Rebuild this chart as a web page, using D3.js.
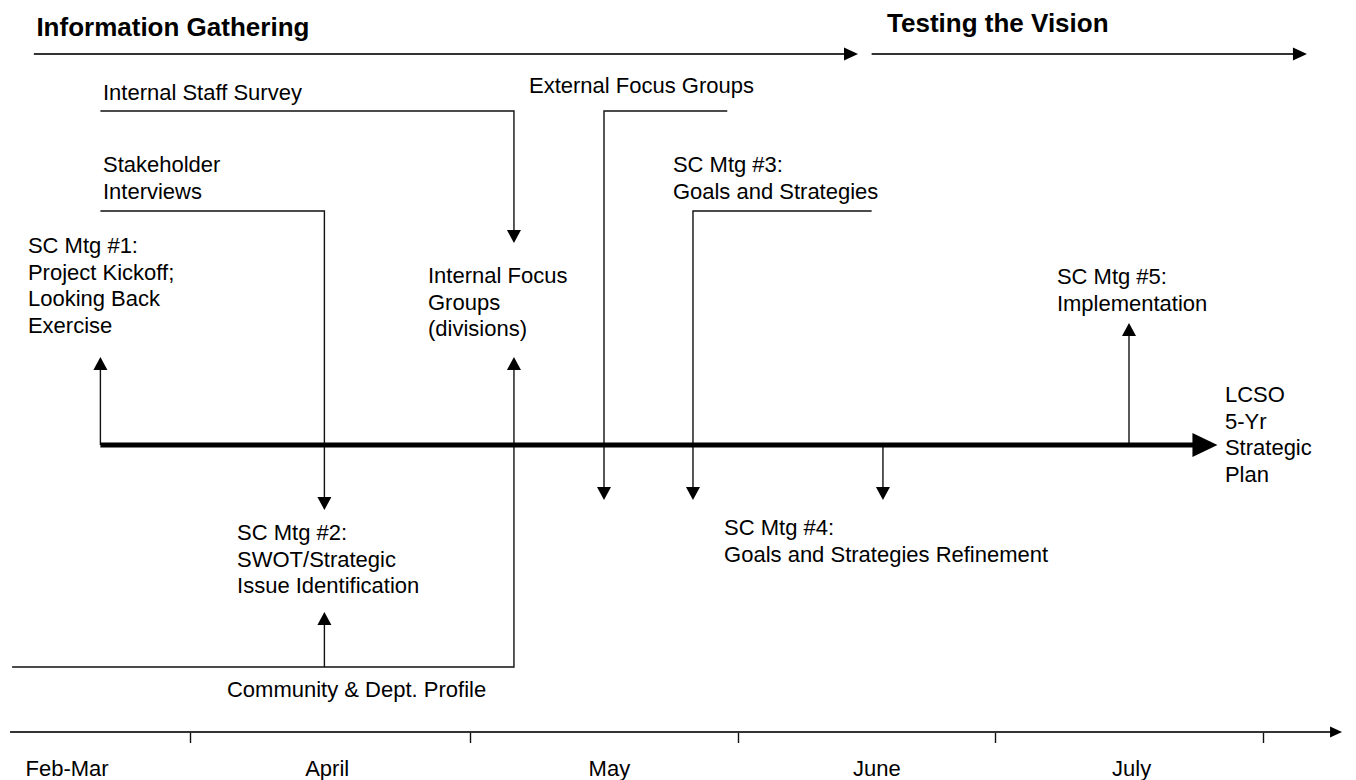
<!DOCTYPE html>
<html>
<head>
<meta charset="utf-8">
<script src="https://cdn.jsdelivr.net/npm/d3@7"></script>
<style>
body { margin: 0; background: #fff; }
text { font-family: Arial, "Liberation Sans", sans-serif; fill: #000; }
</style>
</head>
<body>
<script>
// timeline data, in "month units": 0..1 = Feb-Mar, 1..2 = April, ... 4..5 = July
var monthEdges = [0, 1, 2, 3, 4, 5, 6];
var months = ["Feb-Mar", "April", "May", "June", "July"];
var monthCenters = [0.52, 1.49, 2.52, 3.54, 4.51];
var monthTicks = [1, 2, 3, 4, 5];

var phases = ["Information Gathering", "Testing the Vision"];
var phaseStart = [0.39, 3.52];
var phaseEnd = [3.467, 5.164];
var phaseLabelAt = [0.40, 3.58];

// the plan line and its end product
var planStart = 0.65, planEnd = 4.83;
var planLabel = ["LCSO", "5-Yr", "Strategic", "Plan"];

// text blocks: lines + where they sit in the timeline
var labels = [
  {id: "survey",   lines: ["Internal Staff Survey"], month: 0.66},
  {id: "stake",    lines: ["Stakeholder", "Interviews"], month: 0.66},
  {id: "mtg1",     lines: ["SC Mtg #1:", "Project Kickoff;", "Looking Back", "Exercise"], month: 0.367},
  {id: "ifg",      lines: ["Internal Focus", "Groups", "(divisions)"], month: 1.85},
  {id: "efg",      lines: ["External Focus Groups"], month: 2.22},
  {id: "mtg3",     lines: ["SC Mtg #3:", "Goals and Strategies"], month: 2.757},
  {id: "mtg5",     lines: ["SC Mtg #5:", "Implementation"], month: 4.231},
  {id: "plan",     lines: planLabel, month: 4.858},
  {id: "mtg2",     lines: ["SC Mtg #2:", "SWOT/Strategic", "Issue Identification"], month: 1.168},
  {id: "mtg4",     lines: ["SC Mtg #4:", "Goals and Strategies Refinement"], month: 2.948},
  {id: "profile",  lines: ["Community & Dept. Profile"], month: 1.132}
];

// connectors: [month, lane] points, arrow at the last point
var connectors = [
  {id: "survey",  pts: [[0.65, "laneA"], [2.164, "laneA"], [2.164, "ifgTop"]]},
  {id: "stake",   pts: [[0.65, "laneB"], [1.48, "laneB"], [1.48, "mtg2Top"]]},
  {id: "efg",     pts: [[2.96, "laneA"], [2.5, "laneA"], [2.5, "below"]]},
  {id: "mtg3",    pts: [[3.52, "laneB"], [2.832, "laneB"], [2.832, "below"]]},
  {id: "profile", pts: [[0.305, "laneC"], [2.164, "laneC"], [2.164, "ifgBottom"]]},
  {id: "profile2",pts: [[1.48, "laneC"], [1.48, "mtg2Bottom"]]},
  {id: "mtg1",    pts: [[0.65, "axis"], [0.65, "mtg1Tip"]]},
  {id: "mtg4",    pts: [[3.564, "axis"], [3.564, "below"]]},
  {id: "mtg5",    pts: [[4.5, "axis"], [4.5, "mtg5Tip"]]}
];

// ---- layout ----
var width = 1356, height = 780;
var lineH = 26.6;
var lanes = {laneA: 111, laneB: 211, axis: 445, laneC: 667,
             ifgTop: 243, ifgBottom: 357, mtg1Tip: 357, mtg5Tip: 323,
             below: 500, mtg2Top: 510, mtg2Bottom: 612};
var labelY = {survey: 100, stake: 172, mtg1: 253, ifg: 283, efg: 93, mtg3: 172,
              mtg5: 284, plan: 402, mtg2: 540, mtg4: 535, profile: 697};
var phaseY = 54, phaseLabelY = [36, 32], timeY = 732, monthLabelY = 776;

var x = d3.scaleLinear()
    .domain(monthEdges)
    .range([-66, 190, 470, 738, 995, 1263, 1531]);

var svg = d3.select("body").append("svg")
    .attr("width", width)
    .attr("height", height);

function head(g, tip, dir, len, half, color) {
  var bx = tip[0] - dir[0] * len, by = tip[1] - dir[1] * len;
  var px = -dir[1] * half, py = dir[0] * half;
  g.append("path")
      .attr("d", "M" + tip + "L" + [bx + px, by + py] + "L" + [bx - px, by - py] + "Z")
      .attr("fill", color || "#000");
}

// phase arrows
var ph = svg.append("g");
phases.forEach(function(p, i) {
  ph.append("line")
      .attr("x1", x(phaseStart[i])).attr("x2", x(phaseEnd[i]) - 12)
      .attr("y1", phaseY).attr("y2", phaseY)
      .attr("stroke", "#333").attr("stroke-width", 2);
  head(ph, [x(phaseEnd[i]), phaseY], [1, 0], 14, 6.5, "#000");
  ph.append("text")
      .attr("x", x(phaseLabelAt[i])).attr("y", phaseLabelY[i])
      .attr("font-size", 26).attr("font-weight", "bold")
      .text(p);
});

// connectors
var cg = svg.append("g");
connectors.forEach(function(c) {
  var pts = c.pts.map(function(p) { return [x(p[0]), lanes[p[1]]]; });
  var a = pts[pts.length - 2], b = pts[pts.length - 1];
  var dx = b[0] - a[0], dy = b[1] - a[1], L = Math.sqrt(dx * dx + dy * dy);
  var dir = [dx / L, dy / L];
  var line = pts.slice();
  line[line.length - 1] = [b[0] - dir[0] * 12, b[1] - dir[1] * 12];
  cg.append("path")
      .attr("d", d3.line()(line))
      .attr("fill", "none")
      .attr("stroke", "#111")
      .attr("stroke-width", 1.4);
  head(cg, b, dir, 13, 7);
});

// main plan line
svg.append("line")
    .attr("x1", x(planStart)).attr("x2", x(planEnd) - 22)
    .attr("y1", lanes.axis).attr("y2", lanes.axis)
    .attr("stroke", "#000").attr("stroke-width", 5);
head(svg, [x(planEnd), lanes.axis], [1, 0], 25, 12);

// text blocks
var lg = svg.append("g").attr("font-size", 22);
labels.forEach(function(d) {
  var t = lg.append("text")
      .attr("x", x(d.month)).attr("y", labelY[d.id]);
  t.selectAll("tspan").data(d.lines).enter().append("tspan")
      .attr("x", x(d.month))
      .attr("dy", function(s, i) { return i ? lineH : 0; })
      .text(function(s) { return s; });
});

// bottom time axis
var ax = svg.append("g").attr("transform", "translate(0," + timeY + ")");
ax.call(d3.axisBottom(x).tickValues(monthTicks).tickFormat("").tickSize(11).tickSizeOuter(0));
ax.select(".domain").remove();
ax.selectAll(".tick line").attr("stroke", "#111").attr("stroke-width", 1.4);
ax.append("line")
    .attr("x1", x(0.297)).attr("x2", x(5.295) - 9)
    .attr("y1", 0).attr("y2", 0)
    .attr("stroke", "#333").attr("stroke-width", 2);
head(ax, [x(5.295), 0], [1, 0], 12, 5.5);

svg.append("g").selectAll("text")
    .data(months).enter().append("text")
    .attr("x", function(d, i) { return x(monthCenters[i]); })
    .attr("y", monthLabelY)
    .attr("text-anchor", "middle")
    .attr("font-size", 22)
    .text(function(d) { return d; });
</script>
</body>
</html>
